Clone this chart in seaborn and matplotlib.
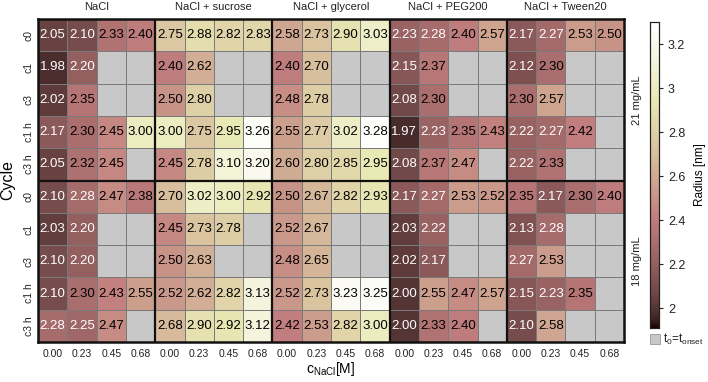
import numpy as np
import pandas as pd
import matplotlib
matplotlib.use("Agg")
import matplotlib.pyplot as plt
import seaborn as sns
from matplotlib.patches import Rectangle

groups = ["NaCl", "NaCl + sucrose", "NaCl + glycerol", "NaCl + PEG200", "NaCl + Tween20"]
conc = ["0.00", "0.23", "0.45", "0.68"]
cycles = ["c0", "c1", "c3", "c1 h", "c3 h"]
protein = ["21 mg/mL", "18 mg/mL"]
nan = np.nan

# 21 mg/mL
r21_c0 = [2.05, 2.10, 2.33, 2.40, 2.75, 2.88, 2.82, 2.83, 2.58, 2.73, 2.90, 3.03, 2.23, 2.28, 2.40, 2.57, 2.17, 2.27, 2.53, 2.50]
r21_c1 = [1.98, 2.20, nan, nan, 2.40, 2.62, nan, nan, 2.40, 2.70, nan, nan, 2.15, 2.37, nan, nan, 2.12, 2.30, nan, nan]
r21_c3 = [2.02, 2.35, nan, nan, 2.50, 2.80, nan, nan, 2.48, 2.78, nan, nan, 2.08, 2.30, nan, nan, 2.30, 2.57, nan, nan]
r21_c1h = [2.17, 2.30, 2.45, 3.00, 3.00, 2.75, 2.95, 3.26, 2.55, 2.77, 3.02, 3.28, 1.97, 2.23, 2.35, 2.43, 2.22, 2.27, 2.42, nan]
r21_c3h = [2.05, 2.32, 2.45, nan, 2.45, 2.78, 3.10, 3.20, 2.60, 2.80, 2.85, 2.95, 2.08, 2.37, 2.47, nan, 2.22, 2.33, nan, nan]
# 18 mg/mL
r18_c0 = [2.10, 2.28, 2.47, 2.38, 2.70, 3.02, 3.00, 2.92, 2.50, 2.67, 2.82, 2.93, 2.17, 2.27, 2.53, 2.52, 2.35, 2.17, 2.30, 2.40]
r18_c1 = [2.03, 2.20, nan, nan, 2.45, 2.73, 2.78, nan, 2.52, 2.67, nan, nan, 2.03, 2.22, nan, nan, 2.13, 2.28, nan, nan]
r18_c3 = [2.10, 2.20, nan, nan, 2.50, 2.63, nan, nan, 2.48, 2.65, nan, nan, 2.02, 2.17, nan, nan, 2.27, 2.53, nan, nan]
r18_c1h = [2.10, 2.30, 2.43, 2.55, 2.52, 2.62, 2.82, 3.13, 2.52, 2.73, 3.23, 3.25, 2.00, 2.55, 2.47, 2.57, 2.15, 2.23, 2.35, nan]
r18_c3h = [2.28, 2.25, 2.47, nan, 2.68, 2.90, 2.92, 3.12, 2.42, 2.53, 2.82, 3.00, 2.00, 2.33, 2.40, nan, 2.10, 2.58, nan, nan]

cbar_ticks = [2.0, 2.2, 2.4, 2.6, 2.8, 3.0, 3.2]

rows = [r21_c0, r21_c1, r21_c3, r21_c1h, r21_c3h, r18_c0, r18_c1, r18_c3, r18_c1h, r18_c3h]
data = pd.DataFrame(rows, index=cycles * 2, columns=conc * len(groups))

plt.rcParams["font.family"] = ["Liberation Sans", "DejaVu Sans"]
plt.rcParams["mathtext.fontset"] = "custom"
plt.rcParams["mathtext.rm"] = "Liberation Sans"
plt.rcParams["mathtext.it"] = "Liberation Sans"

W, H = 708, 382
fig = plt.figure(figsize=(W / 100, H / 100), dpi=100)
ax = fig.add_axes([38 / W, 1 - 342 / H, 586 / W, 323 / H])
cax = fig.add_axes([650 / W, 1 - 328 / H, 9 / W, 306 / H])

sns.heatmap(data, ax=ax, cbar_ax=cax, cmap="pink", vmin=1.91, vmax=3.3,
            annot=True, fmt=".2f", annot_kws={"fontsize": 9.5},
            linewidths=0.6, linecolor="#7a7a7a",
            cbar_kws={"ticks": cbar_ticks})
ax.set_facecolor("#c8c8c8")

for t in ax.texts:
    v = float(t.get_text())
    t.set_color("white" if v < 2.29 else "black")

# thick separators
for x in [4, 8, 12, 16]:
    ax.axvline(x, color="#111111", lw=1.6)
ax.axhline(5, color="#111111", lw=1.6)
for s in ax.spines.values():
    s.set_visible(True)
    s.set_color("#111111")
    s.set_linewidth(1.8)

ax.tick_params(length=0, labelsize=7.5, colors="#222222")
ax.set_xticklabels(conc * len(groups), rotation=0)
ax.set_yticklabels(cycles * 2, rotation=90, va="center")
ax.tick_params(axis="x", pad=5)
ax.tick_params(axis="y", pad=3)
ax.set_xlabel("c$_{\\mathregular{NaCl}}$[M]", fontsize=10)
ax.xaxis.set_label_coords(0.5, -0.055)
ax.set_ylabel("Cycle", fontsize=11.5, labelpad=6)

for g, name in enumerate(groups):
    ax.text(4 * g + 2, -0.36, name, ha="center", va="center", fontsize=8, color="#222222", clip_on=False)
for p, name in enumerate(protein):
    ax.text(20.45, 5 * p + 2.5, name, ha="center", va="center", rotation=90, fontsize=8, color="#222222", clip_on=False)

# colorbar styling
cax.tick_params(labelsize=9, length=3, colors="#222222")
cax.set_yticklabels(["%g" % v for v in cbar_ticks])
cax.set_ylabel("Radius [nm]", fontsize=8.5, labelpad=6)
for s in cax.spines.values():
    s.set_visible(True)
    s.set_color("#222222")
    s.set_linewidth(0.8)

# missing-value legend
fig.add_artist(Rectangle((650 / W, 1 - 344 / H), 10 / W, 10 / H, transform=fig.transFigure,
                         facecolor="#c8c8c8", edgecolor="#999999", lw=0.6))
fig.text(663 / W, 1 - 339 / H, "t$_0$=t$_{\\mathregular{onset}}$", fontsize=8.5, va="center", ha="left", color="#222222")

fig.savefig("out.png", dpi=100)
